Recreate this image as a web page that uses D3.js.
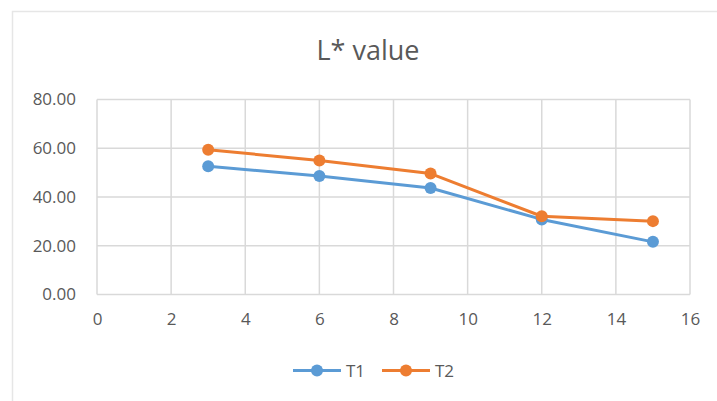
<!DOCTYPE html>
<html><head><meta charset="utf-8">
<script src="https://cdn.jsdelivr.net/npm/d3@7"></script>
<style>body{margin:0;background:#fff}svg{display:block}text{font-family:"Open Sans",sans-serif}</style>
</head><body>
<svg id="c" width="717" height="401"></svg>
<script>
const xValues = [3, 6, 9, 12, 15];
const t1 = [52.6, 48.6, 43.7, 30.8, 21.6];
const t2 = [59.4, 55.0, 49.6, 32.1, 30.1];
const seriesNames = ["T1", "T2"];
const colors = ["#5B9BD5", "#ED7D31"];
const xTicks = [0, 2, 4, 6, 8, 10, 12, 14, 16];
const yTicks = [0, 20, 40, 60, 80];

const svg = d3.select("#c");
svg.append("rect").attr("x", 12.5).attr("y", 11.5).attr("width", 720).attr("height", 400)
  .attr("fill", "#fff").attr("stroke", "#e6e6e6").attr("stroke-width", 1.5);

const x = d3.scaleLinear().domain([0, 16]).range([97, 690]);
const y = d3.scaleLinear().domain([0, 80]).range([294.5, 99.5]);

const g = svg.append("g");
g.selectAll(".vg").data(xTicks).join("line")
  .attr("x1", d => x(d)).attr("x2", d => x(d)).attr("y1", y(80)).attr("y2", y(0))
  .attr("stroke", "#d9d9d9").attr("stroke-width", 1.5);
g.selectAll(".hg").data(yTicks).join("line")
  .attr("x1", x(0)).attr("x2", x(16)).attr("y1", d => y(d)).attr("y2", d => y(d))
  .attr("stroke", "#d9d9d9").attr("stroke-width", 1.5);

const yAxis = d3.axisLeft(y).tickValues(yTicks).tickFormat(d3.format(".2f")).tickSize(0).tickPadding(21);
const ya = svg.append("g").attr("transform", `translate(${x(0)},0)`).call(yAxis);
ya.select(".domain").remove();
ya.selectAll("text").attr("fill", "#595959").style("font-size", "17px").style("font-family", "Open Sans");

const xAxis = d3.axisBottom(x).tickValues(xTicks).tickFormat(d3.format("d")).tickSize(0).tickPadding(18);
const xa = svg.append("g").attr("transform", `translate(0,${y(0)})`).call(xAxis);
xa.select(".domain").remove();
xa.selectAll("text").attr("fill", "#595959").style("font-size", "17px").style("font-family", "Open Sans");

const data = [t1, t2];
const line = d3.line().x((d, i) => x(xValues[i])).y(d => y(d));
data.forEach((s, k) => {
  svg.append("path").datum(s).attr("d", line).attr("fill", "none")
    .attr("stroke", colors[k]).attr("stroke-width", 3).attr("stroke-linejoin", "round");
  svg.selectAll(".m" + k).data(s).join("circle")
    .attr("cx", (d, i) => x(xValues[i])).attr("cy", d => y(d)).attr("r", 6).attr("fill", colors[k]);
});

svg.append("text").attr("x", 368).attr("y", 60).attr("text-anchor", "middle")
  .attr("fill", "#595959").style("font-size", "27px").text("L* value");

const legX = [293, 382];
seriesNames.forEach((n, k) => {
  const lg = svg.append("g");
  lg.append("line").attr("x1", legX[k]).attr("x2", legX[k] + 48).attr("y1", 370.5).attr("y2", 370.5)
    .attr("stroke", colors[k]).attr("stroke-width", 3);
  lg.append("circle").attr("cx", legX[k] + 24).attr("cy", 370.5).attr("r", 6).attr("fill", colors[k]);
  lg.append("text").attr("x", legX[k] + 53).attr("y", 376.5).attr("fill", "#595959")
    .style("font-size", "17px").text(n);
});
</script>
</body></html>
